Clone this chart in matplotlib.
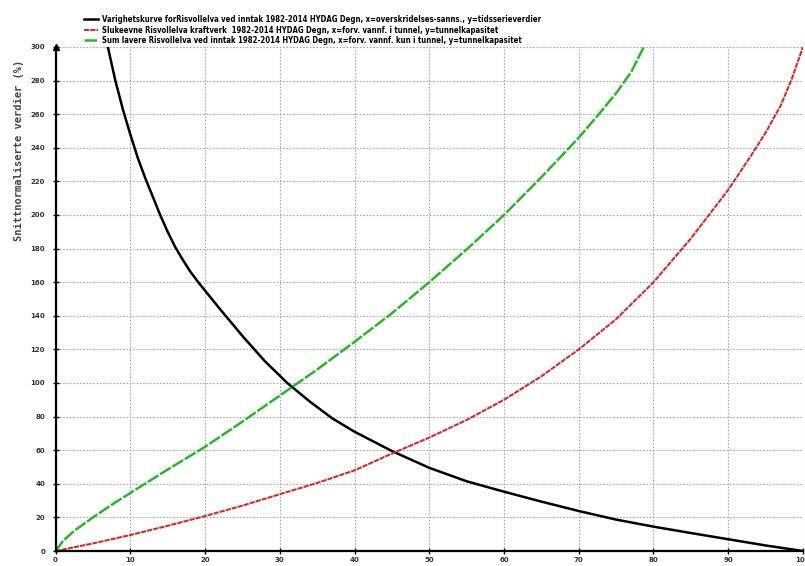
import matplotlib
matplotlib.use("Agg")
import matplotlib.pyplot as plt
from matplotlib import font_manager

# duration curve (black)
dur_x = [7, 8, 9, 10, 11, 12, 13, 14, 15, 16, 17, 18, 19, 20, 22, 25, 28, 31, 34, 37, 40,
         45, 50, 55, 60, 65, 70, 75, 80, 85, 90, 95, 100]
dur_y = [300, 280, 263, 248, 234, 222, 211, 200, 190, 181, 173.5, 166.5, 160.5, 155, 144, 128, 113,
         100, 89, 79, 71, 59.5, 49.5, 41.5, 35.3, 29.4, 23.8, 18.7, 14.5, 10.7, 7.0, 3.3, 0]

# slukeevne kraftverk (red)
sluk_x = [0, 5, 10, 15, 20, 25, 30, 35, 40, 45, 50, 55, 60, 65, 70, 75, 80, 85, 90, 93, 95, 97, 98.5, 100]
sluk_y = [0, 4.5, 9.5, 15, 20.8, 27, 33.8, 40.5, 48, 58, 67.5, 78, 90, 104, 120, 138, 160, 186, 215,
          235, 249, 265, 281, 300]

# sum lavere (green)
sum_x = [0, 1, 2.5, 5, 7.5, 10, 15, 20, 25, 30, 35, 40, 45, 50, 55, 60, 65, 70, 72.5, 75, 77, 78.7]
sum_y = [0, 6, 12, 20, 27.5, 34.5, 48.5, 62, 77, 92.5, 108, 124.5, 141.5, 160, 179.5, 200,
         222.5, 246, 259, 272.5, 285, 300]

labels = [
    "Varighetskurve forRisvollelva ved inntak 1982-2014 HYDAG Degn, x=overskridelses-sanns., y=tidsserieverdier",
    "Slukeevne Risvollelva kraftverk  1982-2014 HYDAG Degn, x=forv. vannf. i tunnel, y=tunnelkapasitet",
    "Sum lavere Risvollelva ved inntak 1982-2014 HYDAG Degn, x=forv. vannf. kun i tunnel, y=tunnelkapasitet",
]

fig = plt.figure(figsize=(8.05, 5.66), dpi=100)
ax = fig.add_axes([0.069, 0.0265, 0.9285, 0.8905])

ax.plot(dur_x, dur_y, color="black", lw=1.8, label=labels[0])
ax.plot(sluk_x, sluk_y, color="#d42a2a", lw=1.5, linestyle=(0, (2.5, 0.5)), label=labels[1])
ax.plot(sum_x, sum_y, color="#2bb52b", lw=1.8, linestyle=(0, (5, 0.8)), label=labels[2])

ax.set_xlim(0, 100)
ax.set_ylim(0, 300)
ax.set_xticks(range(0, 101, 10))
ax.set_yticks(range(0, 301, 20))
ax.grid(True, color="#a8a8a8", linestyle=(0, (1.5, 1.5)), linewidth=0.8)

for s in ["top", "right"]:
    ax.spines[s].set_visible(False)
ax.spines["left"].set_linewidth(1.6)
ax.spines["bottom"].set_linewidth(1.6)
ax.tick_params(axis="both", direction="inout", length=5, width=1, labelsize=5, pad=2)
ax.tick_params(axis="y", pad=5)
for t in ax.get_xticklabels() + ax.get_yticklabels():
    t.set_fontweight("bold")
    t.set_color("#333333")

# arrow on top of y axis
ax.plot(0, 1, marker="^", color="black", ms=4, transform=ax.transAxes, clip_on=False)

fig.text(0.024, 0.735, "Snittnormaliserte verdier (%)", rotation=90, ha="center", va="center",
         family="DejaVu Sans Mono", fontsize=7.5, fontweight="bold", color="#444444")

leg_font = font_manager.FontProperties(family="DejaVu Sans", stretch="condensed", weight="bold", size=5.6)
fig.legend(loc="upper left", bbox_to_anchor=(0.1, 0.98), frameon=False,
           handlelength=1.8, handletextpad=0.5, labelspacing=0.18, borderpad=0,
           prop=leg_font)

fig.savefig("out.png", dpi=100)
